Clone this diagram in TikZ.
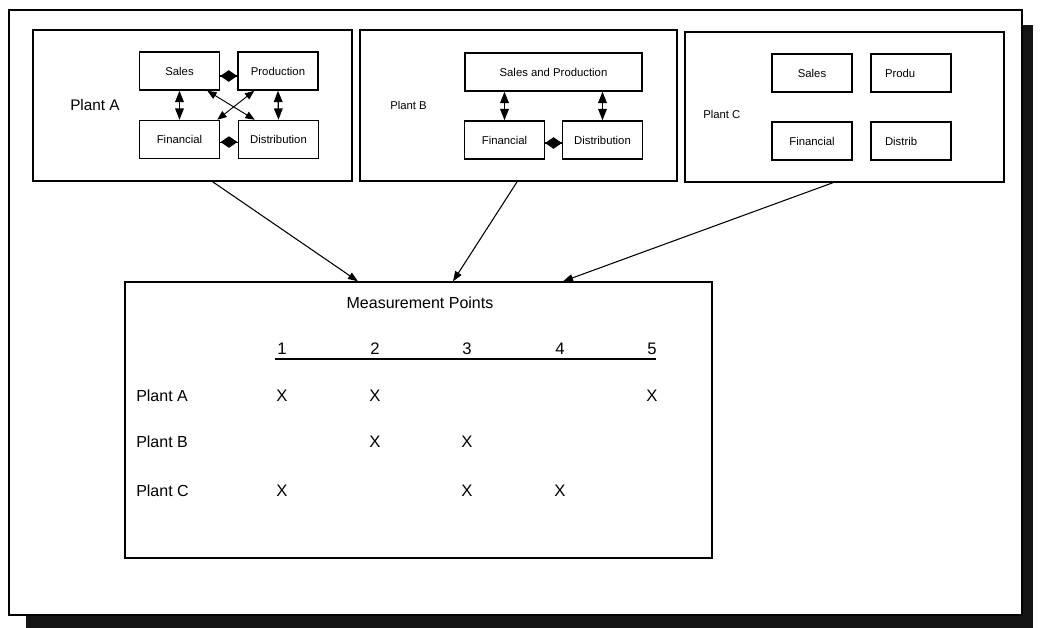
\documentclass[tikz,border=0pt]{standalone}
\usepackage{fontspec}
\setmainfont{Liberation Sans}
\usetikzlibrary{arrows.meta,shapes.geometric}
\begin{document}
\begin{tikzpicture}[x=0.75pt,y=-0.75pt,
  frame/.style={draw, line width=1.1pt},
  plantbox/.style={draw, line width=1pt, inner sep=0pt},
  unitbox/.style={draw, line width=1.1pt, inner sep=0pt, minimum width=60pt, minimum height=28.5pt,
    font=\fontsize{8.5}{9.5}\selectfont},
  leftbox/.style={unitbox, text width=39pt, align=left, inner xsep=10.5pt},
  dmd/.style={diamond, fill=black, inner sep=0pt, minimum width=13pt, minimum height=9pt},
  link/.style={line width=0.8pt},
  dbl/.style={line width=1pt, {Triangle[length=8.5pt,width=6.5pt]}-{Triangle[length=8.5pt,width=6.5pt]}},
  cross/.style={line width=0.7pt, {Triangle[length=7pt,width=5.5pt]}-{Triangle[length=7pt,width=5.5pt]}},
  feed/.style={line width=0.8pt, -{Triangle[length=7.5pt,width=5.5pt]}},
  plantlbl/.style={anchor=west, inner sep=0pt},
  cell/.style={font=\fontsize{12.5}{14}\selectfont, inner sep=1pt},
  rowlbl/.style={anchor=west, inner sep=0pt, font=\fontsize{12}{14}\selectfont}
]
\useasboundingbox (0,0) rectangle (1040,628);
\fill[white] (0,0) rectangle (1040,628);

% drop shadow and outer frame
\fill[black!92] (1022,25) rectangle (1033,628);
\fill[black!92] (26,615) rectangle (1033,628);
\draw[frame] (9,10) rectangle (1022,615);

% plant panels
\node[plantbox, minimum width=239.25pt, minimum height=113.25pt] (pa) at (192.5,105.5) {};
\node[plantbox, minimum width=237.75pt, minimum height=113.25pt] (pb) at (518.5,105.5) {};
\node[plantbox, minimum width=239.25pt, minimum height=112.5pt] (pc) at (844.5,107) {};

% Plant A
\node[plantlbl, font=\fontsize{11.5}{13}\selectfont] (la) at (70,105) {Plant A};
\node[unitbox] (as) at (179.5,71) {Sales};
\node[unitbox] (ap) at (278,71) {Production};
\node[unitbox] (af) at (179.5,139.5) {Financial};
\node[unitbox] (ad) at (278.5,139.5) {Distribution};
\draw[link] ([yshift=-3.75pt]as.east) -- node[dmd] {} ([yshift=-3.75pt]ap.west);
\draw[link] ([yshift=-1.9pt]af.east) -- node[dmd] {} ([yshift=-1.9pt]ad.west);
\draw[dbl] (as.south) -- (af.north);
\draw[dbl] (ap.south) -- (ad.north);
\draw[cross] ([xshift=-9.75pt]as.south east) -- ([xshift=12.75pt]ad.north west);
\draw[cross] ([xshift=-2.25pt]af.north east) -- ([xshift=12.75pt]ap.south west);

% Plant B
\node[plantlbl, font=\fontsize{8.5}{10}\selectfont] (lb) at (390,105) {Plant B};
\node[unitbox, minimum width=132.75pt] (bsp) at (553.5,72) {Sales and Production};
\node[unitbox] (bf) at (504.5,140) {Financial};
\node[unitbox] (bd) at (602.5,140) {Distribution};
\draw[link] ([yshift=-2.25pt]bf.east) -- node[dmd] {} ([yshift=-2.25pt]bd.west);
\draw[dbl] (bf.north |- bsp.south) -- (bf.north);
\draw[dbl] (bd.north |- bsp.south) -- (bd.north);

% Plant C
\node[plantlbl, font=\fontsize{8.5}{10}\selectfont] (lc) at (703,114) {Plant C};
\node[unitbox] (cs) at (812,73) {Sales};
\node[leftbox] (cp) at (911,73) {Produ};
\node[unitbox] (cf) at (812,141) {Financial};
\node[leftbox] (cd) at (911,141) {Distrib};

% measurement table
\node[plantbox, minimum width=440.25pt, minimum height=207pt] (mp) at (418.5,420) {};
\draw[feed] ([xshift=15pt]pa.south) -- ([xshift=-45.4pt]mp.north);
\draw[feed] ([xshift=-1pt]pb.south) -- ([xshift=25.9pt]mp.north);
\draw[feed] ([xshift=-8.6pt]pc.south) -- ([xshift=108.4pt]mp.north);

\node[font=\fontsize{12}{14}\selectfont, inner sep=0pt] (title) at (420,303) {Measurement Points};

\node[cell] (n1) at (282,349) {1};
\node[cell] (n2) at (375,349) {2};
\node[cell] (n3) at (467,349) {3};
\node[cell] (n4) at (560,349) {4};
\node[cell] (n5) at (652,349) {5};
\draw[line width=1.1pt] (275,359) -- (656,359);

\node[rowlbl] (ra) at (136,396) {Plant A};
\node[rowlbl] (rb) at (136,442) {Plant B};
\node[rowlbl] (rc) at (136,491) {Plant C};

\node[cell] (xa1) at (282,396) {X};
\node[cell] (xa2) at (375,396) {X};
\node[cell] (xa5) at (652,396) {X};
\node[cell] (xb2) at (375,442) {X};
\node[cell] (xb3) at (467,442) {X};
\node[cell] (xc1) at (282,491) {X};
\node[cell] (xc3) at (467,491) {X};
\node[cell] (xc4) at (560,491) {X};
\end{tikzpicture}
\end{document}
